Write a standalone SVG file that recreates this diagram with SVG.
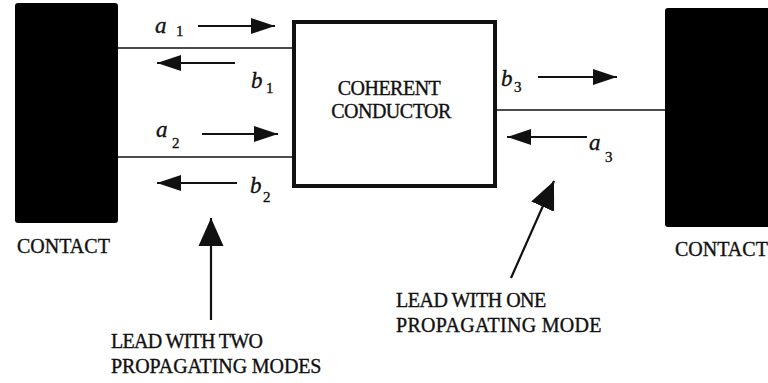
<svg xmlns="http://www.w3.org/2000/svg" width="768" height="383" viewBox="0 0 768 383">
<style>
text{font-family:'Liberation Serif','Times New Roman',serif;fill:#111;stroke:#111;stroke-width:0.35}
.lbl{font-size:20px;letter-spacing:-0.5px}
.var{font-size:23px;font-style:italic}
.sub{font-size:15px}
.lead{stroke:#111;stroke-width:1.6;fill:none}
.arr{stroke:#111;stroke-width:2;fill:none;marker-end:url(#h)}
.big{stroke:#111;stroke-width:2.2;fill:none;marker-end:url(#hb)}
</style>
<defs>
<marker id="h" markerUnits="userSpaceOnUse" markerWidth="24" markerHeight="18" viewBox="0 0 24 18" refX="24" refY="9" orient="auto"><path d="M0,1 L24,9 L0,17 z" fill="#111"/></marker>
<marker id="hb" markerUnits="userSpaceOnUse" markerWidth="28" markerHeight="26" viewBox="0 0 28 26" refX="28" refY="13" orient="auto"><path d="M0,0.5 L28,13 L0,25.5 z" fill="#111"/></marker>
</defs>
<rect width="768" height="383" fill="#fff"/>
<g id="contact-left">
<rect x="15" y="3" width="103" height="220" rx="3" fill="#000"/>
<text class="lbl" x="17" y="253" style="letter-spacing:0">CONTACT</text>
</g>
<g id="contact-right">
<rect x="665" y="8" width="110" height="219" rx="3" fill="#000"/>
<text class="lbl" x="675" y="256" style="letter-spacing:0">CONTACT</text>
</g>
<g id="conductor">
<rect x="294" y="22" width="201" height="164" fill="#fff" stroke="#111" stroke-width="4"/>
<text class="lbl" x="389" y="95" text-anchor="middle">COHERENT</text>
<text class="lbl" x="391" y="118" text-anchor="middle">CONDUCTOR</text>
</g>
<g id="connectors">
<line class="lead" x1="118" y1="48" x2="292" y2="48"/>
<line class="lead" x1="118" y1="157" x2="292" y2="157"/>
<line class="lead" x1="497" y1="110" x2="665" y2="110"/>
<line class="arr" x1="198" y1="26" x2="275" y2="26"/>
<line class="arr" x1="235" y1="63" x2="157" y2="63"/>
<line class="arr" x1="202" y1="134" x2="278" y2="134"/>
<line class="arr" x1="237" y1="183" x2="157" y2="183"/>
<line class="arr" x1="538" y1="77" x2="617" y2="77"/>
<line class="arr" x1="587" y1="137" x2="507" y2="137"/>
<line class="big" x1="211" y1="320" x2="211" y2="218"/>
<line class="big" x1="511" y1="278" x2="554" y2="181"/>
</g>
<g id="labels">
<text class="var" x="155" y="33">a</text><text class="sub" x="176" y="36">1</text>
<text class="var" x="251" y="88">b</text><text class="sub" x="266" y="93">1</text>
<text class="var" x="156" y="137">a</text><text class="sub" x="172" y="148">2</text>
<text class="var" x="250" y="193">b</text><text class="sub" x="263" y="202">2</text>
<text class="var" x="501" y="86">b</text><text class="sub" x="514" y="92">3</text>
<text class="var" x="589" y="150">a</text><text class="sub" x="605" y="162">3</text>
</g>
<g id="lead-two">
<text class="lbl" x="111" y="348" style="letter-spacing:-0.7px">LEAD WITH TWO</text>
<text class="lbl" x="111" y="373" style="letter-spacing:-0.1px">PROPAGATING MODES</text>
</g>
<g id="lead-one">
<text class="lbl" x="396" y="307">LEAD WITH ONE</text>
<text class="lbl" x="396" y="332" style="letter-spacing:0.3px">PROPAGATING MODE</text>
</g>
</svg>
